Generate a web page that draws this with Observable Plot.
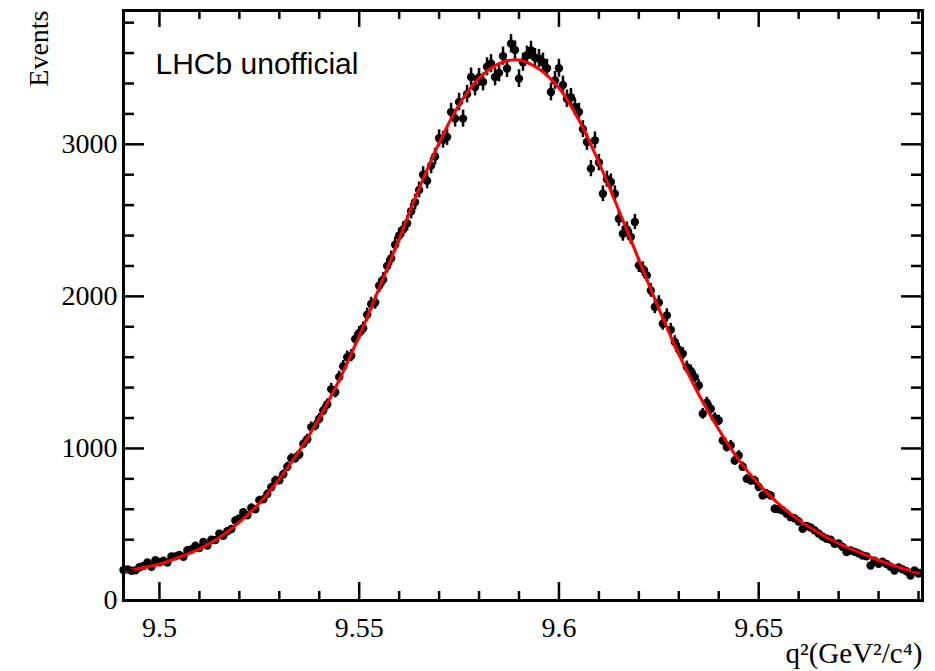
<!DOCTYPE html>
<html><head><meta charset="utf-8">
<script src="https://cdn.jsdelivr.net/npm/d3@7"></script>
<script src="https://cdn.jsdelivr.net/npm/@observablehq/plot@0.6"></script>
<style>body{margin:0;background:#fff} svg{display:block}</style>
</head><body><div id="chart"></div>
<script>
// ---- data ----
const binCenters = [
 9.491,9.492,9.493,9.494,9.495,9.496,9.497,9.498,9.499,9.500,
 9.501,9.502,9.503,9.504,9.505,9.506,9.507,9.508,9.509,9.510,
 9.511,9.512,9.513,9.514,9.515,9.516,9.517,9.518,9.519,9.520,
 9.521,9.522,9.523,9.524,9.525,9.526,9.527,9.528,9.529,9.530,
 9.531,9.532,9.533,9.534,9.535,9.536,9.537,9.538,9.539,9.540,
 9.541,9.542,9.543,9.544,9.545,9.546,9.547,9.548,9.549,9.550,
 9.551,9.552,9.553,9.554,9.555,9.556,9.557,9.558,9.559,9.560,
 9.561,9.562,9.563,9.564,9.565,9.566,9.567,9.568,9.569,9.570,
 9.571,9.572,9.573,9.574,9.575,9.576,9.577,9.578,9.579,9.580,
 9.581,9.582,9.583,9.584,9.585,9.586,9.587,9.588,9.589,9.590,
 9.591,9.592,9.593,9.594,9.595,9.596,9.597,9.598,9.599,9.600,
 9.601,9.602,9.603,9.604,9.605,9.606,9.607,9.608,9.609,9.610,
 9.611,9.612,9.613,9.614,9.615,9.616,9.617,9.618,9.619,9.620,
 9.621,9.622,9.623,9.624,9.625,9.626,9.627,9.628,9.629,9.630,
 9.631,9.632,9.633,9.634,9.635,9.636,9.637,9.638,9.639,9.640,
 9.641,9.642,9.643,9.644,9.645,9.646,9.647,9.648,9.649,9.650,
 9.651,9.652,9.653,9.654,9.655,9.656,9.657,9.658,9.659,9.660,
 9.661,9.662,9.663,9.664,9.665,9.666,9.667,9.668,9.669,9.670,
 9.671,9.672,9.673,9.674,9.675,9.676,9.677,9.678,9.679,9.680,
 9.681,9.682,9.683,9.684,9.685,9.686,9.687,9.688,9.689,9.690
];
const events = [
 200,205,196,198,219,228,250,222,265,252,
 262,250,290,290,300,288,330,335,360,345,
 385,362,400,398,440,425,455,470,526,540,
 580,560,610,600,660,665,700,745,790,790,
 830,880,935,935,960,1030,1060,1140,1150,1195,
 1250,1290,1390,1370,1470,1540,1600,1610,1720,1760,
 1790,1880,1950,1960,2070,2110,2200,2250,2340,2400,
 2440,2480,2560,2620,2700,2800,2760,2860,2920,3040,
 3030,3048,3212,3170,3278,3169,3330,3443,3377,3440,
 3410,3510,3530,3443,3470,3580,3498,3662,3620,3432,
 3540,3586,3618,3570,3564,3540,3500,3344,3420,3500,
 3390,3300,3310,3245,3213,3100,3015,2840,3026,2880,
 2675,2770,2752,2675,2511,2412,2440,2390,2489,2204,
 2180,2138,2039,1930,1960,1820,1875,1780,1700,1650,
 1623,1535,1510,1469,1414,1228,1300,1261,1200,1184,
 1053,1009,1020,921,954,880,800,789,789,746,
 691,702,690,603,600,592,570,548,540,520,
 471,490,480,461,440,420,406,400,373,375,
 352,318,329,320,310,296,290,230,262,241,
 255,240,222,197,218,205,192,164,197,178
];
const fitX = [
 9.490,9.495,9.500,9.505,9.510,9.515,9.520,9.525,9.530,9.535,
 9.540,9.545,9.550,9.555,9.560,9.565,9.570,9.575,9.580,9.585,
 9.590,9.595,9.600,9.605,9.610,9.615,9.620,9.625,9.630,9.635,
 9.640,9.645,9.650,9.655,9.660,9.665,9.670,9.675,9.680,9.685,9.690
];
const fitY = [
 185,212,240,285,340,415,515,640,800,985,
 1200,1450,1740,2055,2380,2710,3010,3260,3435,3530,
 3555,3495,3370,3160,2880,2565,2240,1920,1620,1355,
 1125,925,765,635,530,445,375,318,265,220,180
];
const xMajorTicks = [9.5, 9.55, 9.6, 9.65];
const xMinorTicks = [9.51,9.52,9.53,9.54,9.56,9.57,9.58,9.59,9.61,9.62,9.63,9.64,9.66,9.67,9.68,9.69];
const yMajorTicks = [0, 1000, 2000, 3000];
const yMinorTicks = [200,400,600,800,1200,1400,1600,1800,2200,2400,2600,2800,3200,3400,3600,3800];
const xLabel = "q²(GeV²/c⁴)";
const yLabel = "Events";
const tag = "LHCb unofficial";

// ---- tables ----
const points = binCenters.map((x, i) => ({x, y: events[i], lo: events[i] - Math.sqrt(events[i]), hi: events[i] + Math.sqrt(events[i])}));
const fit = fitX.map((x, i) => ({x, y: fitY[i]}));

const W = 935, H = 671, mL = 123, mR = 13, mT = 10, mB = 71;
const fw = W - mL - mR, fh = H - mT - mB;
const serif = "'Liberation Serif', 'Times New Roman', serif";

const chart = Plot.plot({
  width: W, height: H,
  marginLeft: mL, marginRight: mR, marginTop: mT, marginBottom: mB,
  x: {domain: [9.491, 9.691]},
  y: {domain: [0, 3880]},
  style: {fontFamily: serif, fontSize: "28px", background: "white", color: "black"},
  marks: [
    Plot.ruleX(points, {x: "x", y1: "lo", y2: "hi", stroke: "black", strokeWidth: 2.5}),
    Plot.dot(points, {x: "x", y: "y", r: 4.2, fill: "black", stroke: "none"}),
    Plot.line(fit, {x: "x", y: "y", stroke: "#ff0000", strokeWidth: 3, curve: "catmull-rom", clip: true}),
    // inward ticks, bottom & top
    Plot.tickX(xMajorTicks, {x: d => d, insetTop: fh - 18, stroke: "black", strokeWidth: 2.5}),
    Plot.tickX(xMinorTicks, {x: d => d, insetTop: fh - 9, stroke: "black", strokeWidth: 2.5}),
    Plot.tickX(xMajorTicks, {x: d => d, insetBottom: fh - 17, stroke: "black", strokeWidth: 2.5}),
    Plot.tickX(xMinorTicks, {x: d => d, insetBottom: fh - 9, stroke: "black", strokeWidth: 2.5}),
    // inward ticks, left & right
    Plot.tickY(yMajorTicks, {y: d => d, insetRight: fw - 21, stroke: "black", strokeWidth: 2.5}),
    Plot.tickY(yMinorTicks, {y: d => d, insetRight: fw - 11, stroke: "black", strokeWidth: 2.5}),
    Plot.tickY(yMajorTicks, {y: d => d, insetLeft: fw - 21, stroke: "black", strokeWidth: 2.5}),
    Plot.tickY(yMinorTicks, {y: d => d, insetLeft: fw - 11, stroke: "black", strokeWidth: 2.5}),
    Plot.frame({stroke: "black", strokeWidth: 3}),
    Plot.axisX(xMajorTicks, {tickSize: 0, tickPadding: 17, tickFormat: d => String(d), fontSize: 28, label: null}),
    Plot.axisY(yMajorTicks, {tickSize: 0, tickPadding: 6, tickFormat: d => String(d), fontSize: 28, label: null}),
    Plot.text([tag], {text: d => d, frameAnchor: "top-left", dx: 32, dy: 63, lineAnchor: "bottom", textAnchor: "start",
      fontFamily: "'Liberation Sans', Arial, sans-serif", fontSize: 30}),
    Plot.text([yLabel], {text: d => d, frameAnchor: "top-left", dx: -76, dy: 0, rotate: -90, textAnchor: "end", lineAnchor: "bottom", fontSize: 28}),
    Plot.text([xLabel], {text: d => d, frameAnchor: "bottom-right", dx: 0, dy: 62, textAnchor: "end", lineAnchor: "bottom", fontSize: 29})
  ]
});
document.getElementById("chart").appendChild(chart);
</script>
</body></html>
